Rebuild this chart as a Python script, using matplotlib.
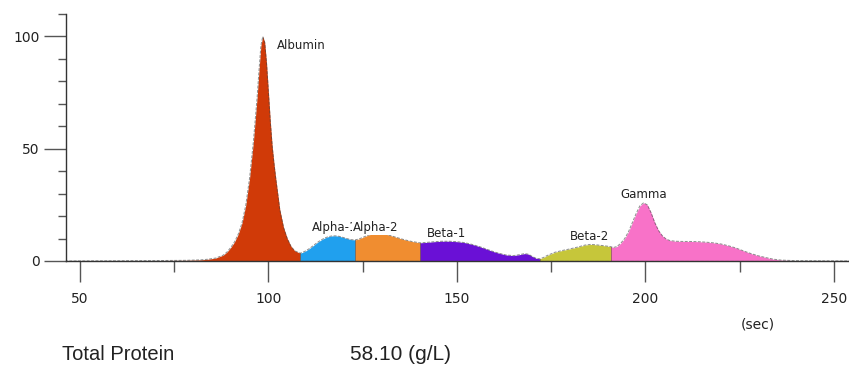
import matplotlib.pyplot as plt
import numpy as np
from matplotlib.ticker import MultipleLocator

# Densitometry trace (migration time in sec, relative absorbance)
trace_sec = [
    46, 60, 70, 78, 82, 84, 86, 88, 89, 90, 91, 92, 93, 94, 95, 96, 97, 97.5,
    98, 98.5, 99, 99.5, 100, 100.5, 101, 101.5, 102, 103, 104, 105, 106, 107,
    108.4, 109, 110, 111, 112, 113, 114, 115, 116, 117, 118, 119, 120, 121,
    122, 123, 124, 125, 126, 127, 128, 129, 130, 131, 132, 134, 136, 138,
    140.2, 142, 144, 146, 148, 150, 152, 154, 156, 158, 160, 161.5, 163, 165,
    166.5, 168, 169, 170, 171, 172, 173, 174, 176, 178, 180, 182, 184, 185.5,
    187, 189, 190.8, 191.5, 192.5, 193.5, 194.5, 195.5, 196.5, 197.5, 198.5,
    199.5, 200.5, 201.5, 202.5, 203.5, 204.5, 205.5, 206.5, 208, 210, 212,
    214, 216, 218, 220, 222, 224, 226, 228, 230, 232, 234, 236, 240, 250, 254,
]
trace_abs = [
    0, 0.1, 0.2, 0.3, 0.5, 0.8, 1.3, 2.6, 4, 6, 8.5, 12, 17, 25, 37, 53, 73, 85,
    96, 100, 97.5, 88, 75, 62, 51, 43, 36, 23, 15, 10, 6.5, 4.5,
    3.5, 3.8, 4.6, 5.7, 7, 8.3, 9.4, 10.3, 10.9, 11.2, 11.2, 10.9, 10.4, 9.9,
    9.5, 9.4, 9.8, 10.5, 11.2, 11.8, 12.2, 12.4, 12.3, 12.0, 11.5, 10.5, 9.5, 8.7,
    8.1, 8.3, 8.6, 8.8, 8.8, 8.6, 8.2, 7.4, 6.4, 5.2, 4.0, 3.3, 2.7, 2.4,
    2.8, 3.3, 3.0, 2.0, 1.2, 1.0, 1.6, 2.5, 3.9, 4.7, 5.4, 6.2, 7.1, 7.4,
    7.2, 6.8, 6.4, 6.0, 6.5, 8.0, 10, 13, 17, 21, 24.5,
    25.9, 25, 21.5, 17, 13.5, 11.2, 9.8, 9.1, 8.8, 8.7, 8.7,
    8.6, 8.4, 8.1, 7.6, 6.8, 5.8, 4.5, 3.3, 2.3, 1.5, 0.8, 0.4, 0.15, 0.05, 0,
]

fractions = ['Albumin', 'Alpha-1', 'Alpha-2', 'Beta-1', 'Beta-2', 'Gamma']
cut_points = [46, 108.4, 123, 140.2, 172, 190.8, 254]
fraction_colors = ['#d03a08', '#20a0ee', '#f08d30', '#6a10d6', '#c6c63a', '#f872c8']
label_pos = [(102.2, 96), (111.6, 14.7), (122.4, 14.9), (142, 12.4),
             (179.9, 10.7), (193.4, 29.8)]

total_protein = 58.10

x = np.array(trace_sec)
y = np.array(trace_abs)

fig = plt.figure(figsize=(8.49, 3.71), dpi=100)
ax = fig.add_axes([66 / 849, 110 / 371, 783 / 849, 247 / 371])

# Colour every fraction between its cut points
for name, lo, hi, color in zip(fractions, cut_points[:-1], cut_points[1:], fraction_colors):
    seg = (x >= lo) & (x <= hi)
    ax.fill_between(x[seg], 0, y[seg], color=color, linewidth=0)

for cut in cut_points[1:-1]:
    ax.plot([cut, cut], [0, np.interp(cut, x, y)], color='#553322', lw=0.6, alpha=0.6)

ax.plot(x, y, color='#444444', lw=0.7, ls=(0, (3, 1.5)), alpha=0.6)
ax.plot([46, 254], [0, 0], color='#444444', lw=0.8, ls=(0, (3, 1.5)), alpha=0.8)

# Alpha-2 label sits on a white patch and partly hides the Alpha-1 label
for name, (lx, ly) in zip(fractions, label_pos):
    bbox = dict(facecolor='white', edgecolor='none', pad=0.3) if name == 'Alpha-2' else None
    ax.text(lx, ly, name, fontsize=8.5, family='DejaVu Sans', color='#222222',
            ha='left', va='center', bbox=bbox)

ax.set_xlim(46.3, 254)
ax.set_ylim(0, 110)

for side in ['top', 'right']:
    ax.spines[side].set_visible(False)
for side in ['left', 'bottom']:
    ax.spines[side].set_color('#333333')
    ax.spines[side].set_linewidth(1.0)

ax.xaxis.set_major_locator(MultipleLocator(50))
ax.xaxis.set_minor_locator(MultipleLocator(25))
ax.yaxis.set_major_locator(MultipleLocator(50))
ax.yaxis.set_minor_locator(MultipleLocator(10))

ax.tick_params(axis='x', which='major', length=15, width=1, color='#555555',
               labelsize=10, pad=7, labelcolor='#222222')
ax.tick_params(axis='x', which='minor', length=8, width=1, color='#555555')
ax.tick_params(axis='y', which='major', length=16, width=1, color='#555555',
               labelsize=10, pad=3, labelcolor='#222222')
ax.tick_params(axis='y', which='minor', length=6, width=1, color='#555555')
for lbl in ax.get_xticklabels() + ax.get_yticklabels():
    lbl.set_family('DejaVu Sans')

fig.text(741 / 849, 1 - 325 / 371, '(sec)', fontsize=10, family='DejaVu Sans',
         color='#222222', ha='left', va='center')
fig.text(62 / 849, 1 - 355 / 371, 'Total Protein', fontsize=14.5,
         family='Liberation Sans', color='#222222', ha='left', va='center')
fig.text(350 / 849, 1 - 355 / 371, f'{total_protein:.2f} (g/L)', fontsize=15,
         family='Liberation Sans', color='#222222', ha='left', va='center')

fig.savefig('out.png', dpi=100, facecolor='white')
